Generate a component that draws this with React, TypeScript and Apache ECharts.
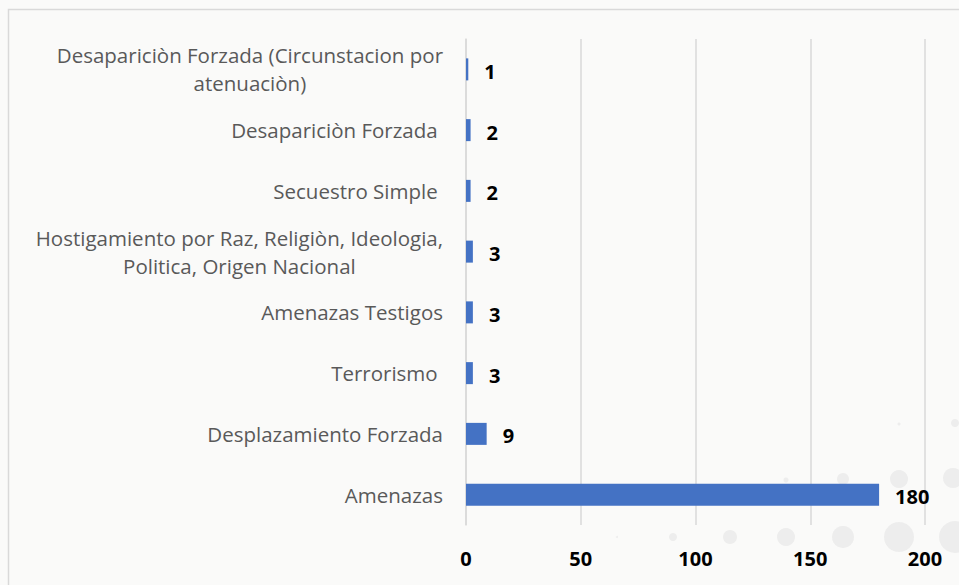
import React, { useEffect, useRef } from "react";
import * as echarts from "echarts";

const categories = [
  "Amenazas",
  "Desplazamiento Forzada",
  "Terrorismo ",
  "Amenazas Testigos",
  "Hostigamiento por Raz, Religiòn, Ideologia,\nPolitica, Origen Nacional",
  "Secuestro Simple ",
  "Desapariciòn Forzada ",
  "Desapariciòn Forzada (Circunstacion por\natenuaciòn)",
];
const values = [180, 9, 3, 3, 3, 2, 2, 1];
const xTicks = [0, 50, 100, 150, 200];

const decoCircles: [number, number, number][] = [
  [955, 423, 4],
  [899, 424, 1.5],
  [953, 478, 10],
  [899, 479, 9],
  [843, 479, 6],
  [786, 480, 2.5],
  [617, 537, 1],
  [673, 537, 4],
  [730, 537, 7],
  [786, 537, 9],
  [843, 537, 11],
  [899, 537, 15],
  [955, 537, 16],
];

export default function App() {
  const ref = useRef<HTMLDivElement>(null);
  useEffect(() => {
    if (!ref.current) return;
    const chart = echarts.init(ref.current, null, { renderer: "svg" });
    const font = "'Open Sans', 'Noto Sans', sans-serif";
    chart.setOption({
      animation: false,
      backgroundColor: "#fafaf9",
      graphic: [
        {
          type: "rect",
          z: -10,
          silent: true,
          shape: { x: 8.5, y: 9.5, width: 1200, height: 1200 },
          style: { fill: "none", stroke: "#d9d9d9", lineWidth: 1.5 },
        },
        ...decoCircles.map(([cx, cy, r]) => ({
          type: "circle",
          z: -10,
          silent: true,
          shape: { cx, cy, r },
          style: { fill: "#ebebeb", opacity: 0.9 },
        })),
      ],
      grid: { left: 466, right: 34, top: 39, bottom: 60, containLabel: false },
      xAxis: {
        type: "value",
        min: xTicks[0],
        max: xTicks[xTicks.length - 1],
        interval: 50,
        axisLine: { show: false },
        axisTick: { show: false },
        splitLine: { show: true, lineStyle: { color: "#d9d9d9", width: 1.5 } },
        axisLabel: {
          color: "#000",
          fontWeight: "bold",
          fontFamily: font,
          fontSize: 20,
          margin: 23,
        },
      },
      yAxis: {
        type: "category",
        data: categories,
        axisLine: { show: true, lineStyle: { color: "#d9d9d9", width: 1.5 } },
        axisTick: { show: false },
        axisLabel: {
          margin: 23,
          color: "#595959",
          fontFamily: font,
          fontSize: 20.5,
          lineHeight: 28,
          formatter: (v: string) =>
            v
              .split("\n")
              .map((l) => "{c|" + l + "}")
              .join("\n"),
          rich: {
            c: {
              align: "center",
              color: "#595959",
              fontFamily: font,
              fontSize: 20.5,
              lineHeight: 28,
            },
          },
        },
      },
      series: [
        {
          type: "bar",
          data: values,
          barWidth: 22,
          itemStyle: { color: "#4472c4" },
          label: {
            show: true,
            position: "right",
            distance: 16,
            offset: [0, 2],
            color: "#000",
            fontWeight: "bold",
            fontFamily: font,
            fontSize: 20,
          },
        },
      ],
    });
    return () => chart.dispose();
  }, []);
  return (
    <div
      ref={ref}
      style={{ position: "fixed", left: 0, top: 0, width: 959, height: 585 }}
    />
  );
}
